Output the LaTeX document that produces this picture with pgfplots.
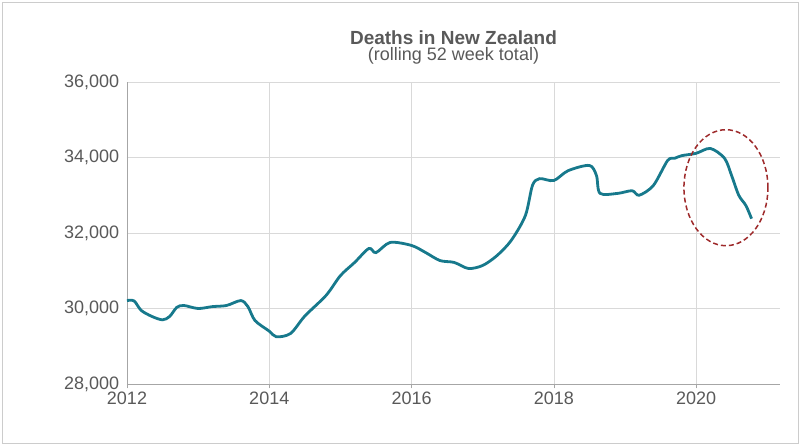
\documentclass[border=0pt]{standalone}
\usepackage{pgfplots}
\pgfplotsset{compat=1.18}
\usepackage{fontspec}
\setmainfont{Liberation Sans}
\definecolor{linec}{HTML}{17798C}
\definecolor{txt}{HTML}{595959}
\definecolor{ell}{HTML}{9E2A2B}
\begin{document}
\begin{tikzpicture}
\path[use as bounding box] (-127pt,-61pt) rectangle (673pt,384pt);
\draw[gray!40] (-125pt,-59pt) rectangle (671pt,382pt);
\begin{axis}[at={(0,0)},anchor=origin,scale only axis,width=653pt,height=302pt,
 xmin=2012,xmax=2021.18,ymin=28000,ymax=36000,
 xtick={2012,2014,2016,2018,2020},ytick={28000,30000,32000,34000,36000},
 scaled ticks=false,
 xticklabel style={/pgf/number format/1000 sep=},
 yticklabel style={/pgf/number format/1000 sep={,}},
 /pgf/number format/assume math mode=true,
 ticklabel style={font=\fontsize{18}{21}\selectfont,text=txt},
 grid=major,major grid style={gray!30},
 axis x line*=bottom,axis y line*=left,
 axis line style={gray!70},tick style={gray!70},
 xtick pos=bottom, ytick style={draw=none},
 tick align=outside,
 title style={align=center,text=txt,yshift=8pt},
 title={{\fontsize{19}{24}\selectfont\bfseries Deaths in New Zealand}\\[2pt]{\fontsize{18}{22}\selectfont (rolling 52 week total)}},
]
\addplot[linec,line width=2.8pt,smooth] coordinates {
(2012.0,30210)(2012.1,30200)(2012.2,29950)(2012.35,29790)(2012.5,29700)(2012.6,29790)
(2012.7,30030)(2012.8,30080)(2013.0,30000)(2013.2,30050)(2013.4,30080)(2013.6,30210)
(2013.7,30050)(2013.8,29680)(2014.0,29400)(2014.1,29250)(2014.3,29340)(2014.5,29800)
(2014.8,30350)(2015.0,30870)(2015.2,31220)(2015.4,31590)(2015.5,31480)(2015.7,31750)
(2016.0,31670)(2016.2,31480)(2016.4,31270)(2016.6,31220)(2016.8,31060)(2017.0,31140)
(2017.2,31400)(2017.4,31800)(2017.6,32460)(2017.7,33260)(2017.8,33440)(2018.0,33390)
(2018.2,33650)(2018.5,33790)(2018.6,33520)(2018.65,33050)(2018.9,33050)(2019.1,33120)
(2019.2,33000)(2019.4,33260)(2019.6,33920)(2019.7,33980)(2019.8,34050)(2020.0,34110)
(2020.2,34240)(2020.4,33980)(2020.5,33520)(2020.6,33000)(2020.7,32730)(2020.78,32380)};
\draw[ell,dash pattern=on 5pt off 3pt,line width=1.5pt] (axis cs:2020.42,33200) ellipse [x radius=42pt,y radius=58pt];
\end{axis}
\end{tikzpicture}
\end{document}
